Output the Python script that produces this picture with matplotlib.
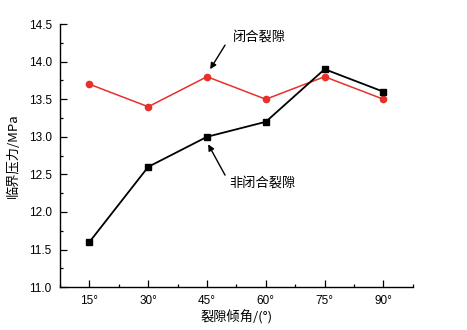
import matplotlib
matplotlib.use("Agg")
import matplotlib.pyplot as plt
from matplotlib.ticker import MultipleLocator

angles = [15, 30, 45, 60, 75, 90]
tick_labels = ["15°", "30°", "45°", "60°", "75°", "90°"]
closed = [13.7, 13.4, 13.8, 13.5, 13.8, 13.5]
non_closed = [11.6, 12.6, 13.0, 13.2, 13.9, 13.6]

plt.rcParams['font.family'] = ['Liberation Sans', 'Noto Sans CJK SC', 'DejaVu Sans']
cjk = ['Noto Sans CJK SC', 'DejaVu Sans']

fig = plt.figure(figsize=(4.67, 3.30), dpi=100)
ax = fig.add_axes([0.1285, 0.130, 0.7555, 0.797])

ax.plot(angles, closed, color='#e8302a', lw=1.1, marker='o', ms=4.5, zorder=3)
ax.plot(angles, non_closed, color='black', lw=1.3, marker='s', ms=4.5, zorder=4)

ax.set_xlim(7.5, 97.5)
ax.set_ylim(11.0, 14.5)
ax.set_xticks(angles)
ax.set_xticklabels(tick_labels)
ax.xaxis.set_minor_locator(MultipleLocator(7.5))
ax.yaxis.set_major_locator(MultipleLocator(0.5))
ax.yaxis.set_minor_locator(MultipleLocator(0.25))
ax.yaxis.set_major_formatter(matplotlib.ticker.FormatStrFormatter('%.1f'))

for s in ['top', 'right']:
    ax.spines[s].set_visible(False)
for s in ['left', 'bottom']:
    ax.spines[s].set_linewidth(1.0)
ax.tick_params(which='major', direction='in', length=5, width=0.9, labelsize=8.5, pad=6)
ax.tick_params(which='minor', direction='in', length=2.5, width=0.9)

ax.set_xlabel("裂隙倾角/(°)", family=cjk, fontsize=9.5, labelpad=2)
ax.set_ylabel("临界压力/MPa", family=cjk, fontsize=9.5, labelpad=6)

arrow = dict(arrowstyle='-|>', color='black', lw=1.0, shrinkA=0, shrinkB=0, mutation_scale=9)
ax.text(51.6, 14.33, "闭合裂隙", family=cjk, fontsize=9.5, ha='left', va='center')
ax.annotate("", xy=(45.8, 13.9), xytext=(49.6, 14.22), arrowprops=arrow)
ax.text(50.8, 12.38, "非闭合裂隙", family=cjk, fontsize=9.5, ha='left', va='center')
ax.annotate("", xy=(45.3, 12.9), xytext=(49.6, 12.49), arrowprops=arrow)

fig.savefig("out.png", dpi=100)
